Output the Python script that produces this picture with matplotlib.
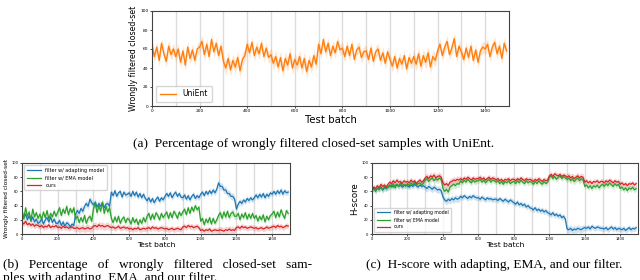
import numpy as np
import matplotlib
matplotlib.use("Agg")
import matplotlib.pyplot as plt

# test batches, one value every 10 batches
batch = np.arange(0, 1500, 10)
shift_points = np.arange(100, 1500, 100)

# (a) UniEnt, % wrongly filtered closed-set samples
unient = [64, 52, 62, 48, 66, 55, 47, 63, 54, 60,
          52, 60, 46, 58, 43, 62, 50, 59, 48, 60,
          62, 68, 54, 65, 52, 70, 57, 66, 53, 63,
          47, 40, 50, 38, 48, 41, 51, 37, 49, 53,
          65, 56, 67, 53, 62, 55, 66, 52, 61, 51,
          54, 45, 52, 41, 51, 37, 50, 43, 55, 40,
          49, 43, 52, 40, 50, 36, 48, 41, 53, 44,
          65, 55, 70, 57, 66, 53, 63, 56, 68, 59,
          61, 52, 63, 53, 65, 49, 59, 62, 51, 57,
          58, 49, 61, 47, 57, 60, 48, 56, 45, 57,
          49, 42, 52, 40, 50, 44, 53, 39, 51, 45,
          52, 44, 55, 42, 53, 46, 56, 41, 52, 48,
          58, 65, 53, 62, 68, 54, 61, 71, 52, 63,
          57, 49, 61, 51, 63, 48, 59, 46, 58, 62,
          60, 65, 52, 62, 67, 55, 63, 50, 66, 58]
unient_spread = [6, 6, 6, 7, 6, 7, 7, 6, 6, 6, 6, 7, 6, 6, 6]

# (b) % wrongly filtered closed-set samples
b_adapt = [29, 23, 28, 20, 26, 18, 24, 17, 21, 15,
           17, 21, 14, 20, 23, 17, 24, 16, 21, 15,
           15, 19, 12, 17, 11, 16, 14, 10, 14, 12,
           28, 33, 29, 36, 32, 39, 43, 39, 49, 44,
           41, 45, 38, 43, 39, 44, 37, 42, 43, 39,
           59, 54, 61, 53, 58, 60, 52, 59, 55, 56,
           58, 53, 60, 54, 59, 52, 57, 51, 56, 50,
           47, 51, 45, 50, 44, 49, 52, 46, 51, 48,
           53, 57, 53, 58, 51, 56, 59, 53, 57, 52,
           51, 55, 49, 54, 48, 53, 56, 50, 54, 51,
           56, 59, 54, 60, 56, 61, 57, 62, 58, 63,
           72, 67, 67, 62, 62, 57, 57, 53, 53, 49,
           35, 42, 46, 43, 48, 45, 50, 47, 51, 48,
           51, 55, 51, 56, 52, 57, 51, 56, 53, 58,
           56, 60, 56, 61, 57, 62, 56, 61, 58, 59]
b_ema = [34, 21, 37, 25, 31, 19, 35, 24, 30, 22,
         28, 20, 31, 23, 33, 21, 29, 24, 32, 25,
         31, 37, 26, 35, 29, 39, 27, 36, 30, 37,
         21, 25, 16, 23, 17, 26, 15, 22, 25, 18,
         36, 43, 30, 40, 32, 45, 29, 39, 31, 37,
         22, 16, 24, 17, 25, 15, 21, 24, 16, 22,
         20, 14, 23, 16, 21, 13, 20, 15, 23, 17,
         25, 29, 20, 28, 21, 30, 26, 20, 29, 23,
         27, 31, 22, 30, 23, 32, 28, 22, 31, 26,
         31, 35, 27, 37, 29, 38, 32, 40, 34, 38,
         18, 22, 13, 21, 16, 23, 14, 22, 15, 20,
         26, 30, 22, 31, 24, 32, 23, 29, 31, 25,
         25, 29, 20, 28, 23, 30, 21, 28, 22, 29,
         22, 26, 18, 25, 20, 27, 17, 25, 20, 26,
         28, 32, 23, 31, 24, 34, 27, 22, 33, 29]
b_ours = [17, 14, 18, 13, 15, 12, 14, 11, 13, 12,
          10, 12, 9, 11, 10, 13, 9, 11, 10, 12,
          9, 10, 8, 11, 9, 10, 8, 9, 10, 8,
          8, 9, 7, 8, 9, 7, 8, 9, 7, 8,
          11, 12, 10, 13, 11, 12, 10, 11, 12, 10,
          9, 10, 8, 9, 11, 8, 9, 10, 8, 9,
          7, 8, 6, 8, 7, 9, 6, 7, 8, 7,
          8, 9, 7, 10, 8, 9, 7, 8, 9, 8,
          7, 8, 6, 7, 8, 6, 7, 8, 7, 6,
          10, 11, 9, 12, 10, 11, 9, 10, 11, 9,
          5, 6, 4, 6, 5, 7, 4, 5, 6, 5,
          5, 6, 5, 4, 6, 5, 7, 5, 6, 5,
          9, 10, 8, 11, 9, 10, 8, 9, 10, 9,
          8, 9, 7, 8, 9, 7, 8, 10, 8, 9,
          10, 11, 9, 12, 10, 11, 9, 10, 12, 11]

# (c) H-score
c_adapt = [62, 65, 61, 64, 63, 66, 62, 65, 64, 66,
           67, 69, 66, 68, 70, 67, 69, 66, 68, 69,
           68, 66, 69, 67, 70, 68, 66, 69, 67, 68,
           66, 64, 67, 65, 63, 66, 64, 62, 63, 61,
           52, 48, 46, 49, 47, 50, 48, 51, 49, 50,
           53, 51, 54, 52, 50, 53, 51, 54, 52, 51,
           51, 49, 52, 50, 48, 51, 49, 50, 48, 49,
           49, 47, 50, 48, 46, 49, 47, 45, 48, 46,
           44, 42, 45, 41, 43, 40, 42, 38, 40, 37,
           36, 34, 37, 33, 35, 32, 34, 31, 33, 30,
           29, 27, 30, 26, 28, 25, 27, 23, 25, 21,
           7, 6, 8, 5, 7, 6, 8, 7, 6, 8,
           9, 8, 10, 7, 11, 9, 8, 10, 9, 8,
           8, 7, 9, 6, 8, 10, 7, 9, 6, 8,
           7, 6, 8, 5, 7, 9, 6, 8, 7, 9]
c_ema = [61, 64, 60, 65, 63, 66, 62, 67, 64, 66,
         69, 66, 71, 65, 70, 67, 72, 68, 70, 67,
         71, 68, 72, 69, 73, 69, 71, 72, 69, 72,
         76, 78, 74, 77, 79, 75, 78, 76, 79, 77,
         64, 60, 63, 59, 66, 68, 70, 68, 71, 70,
         75, 72, 76, 73, 77, 74, 72, 76, 73, 75,
         75, 77, 73, 76, 72, 75, 77, 73, 76, 75,
         73, 75, 71, 74, 70, 74, 72, 75, 71, 73,
         74, 71, 75, 72, 76, 73, 71, 75, 72, 74,
         73, 70, 74, 71, 75, 72, 70, 74, 71, 73,
         80, 82, 78, 81, 77, 80, 82, 78, 81, 79,
         77, 79, 75, 78, 74, 77, 79, 75, 78, 76,
         67, 69, 65, 68, 64, 68, 66, 69, 65, 68,
         70, 67, 71, 68, 72, 69, 67, 71, 68, 70,
         64, 66, 62, 65, 61, 65, 63, 66, 62, 64]
c_ours = [62, 66, 64, 68, 65, 70, 67, 69, 66, 70,
          73, 71, 75, 72, 76, 73, 74, 71, 75, 73,
          74, 72, 76, 73, 75, 71, 74, 76, 73, 75,
          79, 81, 78, 82, 80, 83, 79, 81, 82, 80,
          72, 69, 71, 68, 73, 74, 76, 75, 77, 76,
          78, 76, 79, 77, 80, 78, 76, 79, 77, 78,
          78, 80, 77, 79, 76, 78, 80, 77, 79, 78,
          76, 78, 75, 77, 74, 77, 76, 78, 75, 77,
          77, 75, 78, 76, 79, 77, 75, 78, 76, 77,
          76, 74, 77, 75, 78, 76, 74, 77, 75, 76,
          82, 84, 81, 85, 83, 82, 84, 81, 83, 82,
          80, 82, 79, 81, 78, 80, 82, 79, 81, 80,
          73, 75, 72, 74, 71, 74, 73, 75, 72, 74,
          74, 72, 75, 73, 76, 74, 72, 75, 73, 74,
          70, 72, 69, 71, 68, 71, 70, 72, 69, 71]
band_spread = [4, 4, 4, 5, 5, 4, 4, 4, 4, 4, 4, 5, 4, 4, 4]

labels3 = ['filter w/ adapting model', 'filter w/ EMA model', 'ours']
colors3 = ['tab:blue', 'tab:green', 'tab:red']


def draw(ax, y, spread, color, label, lw):
    y = np.array(y, dtype=float)
    s = np.repeat(spread, 10)
    ax.fill_between(batch, y - s, y + s, color=color, alpha=0.2, lw=0)
    ax.plot(batch, y, color=color, lw=lw, label=label)


def style(ax, tick_fs):
    for xv in shift_points:
        ax.axvline(xv, color='#dcdcdc', lw=1.0, zorder=0)
    ax.set_xlim(0, 1500)
    ax.set_ylim(0, 100)
    ax.set_xticks(range(0, 1500, 200))
    ax.set_yticks(range(0, 101, 20))
    ax.tick_params(labelsize=tick_fs, length=1.5, width=0.5, pad=1)
    for sp in ax.spines.values():
        sp.set_linewidth(0.8)
        sp.set_color('#444444')


fig = plt.figure(figsize=(6.4, 2.8), dpi=100)

# (a)
ax = fig.add_axes([152 / 640, 1 - 106 / 280, 357 / 640, 95 / 280])
style(ax, 3.2)
draw(ax, unient, unient_spread, 'tab:orange', 'UniEnt', 1.0)
ax.set_xlabel('Test batch', fontsize=7.3, labelpad=1)
ax.set_ylabel('Wrongly filtered closed-set', fontsize=5.7, labelpad=2)
ax.legend(loc='lower left', fontsize=5.5, handlelength=2.2, borderpad=0.5,
          framealpha=0.8, fancybox=True)

# (b)
ax = fig.add_axes([22 / 640, 1 - 234 / 280, 268 / 640, 71 / 280])
style(ax, 2.6)
for y, c, l in zip([b_adapt, b_ema, b_ours], colors3, labels3):
    draw(ax, y, band_spread, c, l, 0.9)
ax.set_xlabel('Test batch', fontsize=5.4, labelpad=0.5)
ax.set_ylabel('Wrongly filtered closed-set', fontsize=4.2, labelpad=1.5)
ax.legend(loc='upper left', fontsize=3.5, handlelength=3, borderpad=0.5,
          framealpha=0.8)

# (c)
ax = fig.add_axes([372 / 640, 1 - 234 / 280, 266 / 640, 71 / 280])
style(ax, 2.6)
for y, c, l in zip([c_adapt, c_ema, c_ours], colors3, labels3):
    draw(ax, y, band_spread, c, l, 0.9)
ax.set_xlabel('Test batch', fontsize=5.4, labelpad=0.5)
ax.set_ylabel('H-score', fontsize=6.2, labelpad=2)
ax.legend(loc='lower left', fontsize=3.3, handlelength=3, borderpad=0.5,
          framealpha=0.8)

serif = ['Liberation Serif', 'DejaVu Serif']
fig.text(0.49, 1 - 144 / 280, '(a)  Percentage of wrongly filtered closed-set samples with UniEnt.',
         ha='center', va='center', fontsize=9.6, family=serif)
fig.text(3 / 640, 1 - 265 / 280, '(b)   Percentage   of   wrongly   filtered   closed-set   sam-',
         ha='left', va='center', fontsize=9.6, family=serif)
fig.text(3 / 640, 1 - 278.5 / 280, 'ples with adapting, EMA, and our filter.',
         ha='left', va='center', fontsize=9.6, family=serif)
fig.text(494 / 640, 1 - 265 / 280, '(c)  H-score with adapting, EMA, and our filter.',
         ha='center', va='center', fontsize=9.6, family=serif)

fig.savefig('out.png', dpi=100)
